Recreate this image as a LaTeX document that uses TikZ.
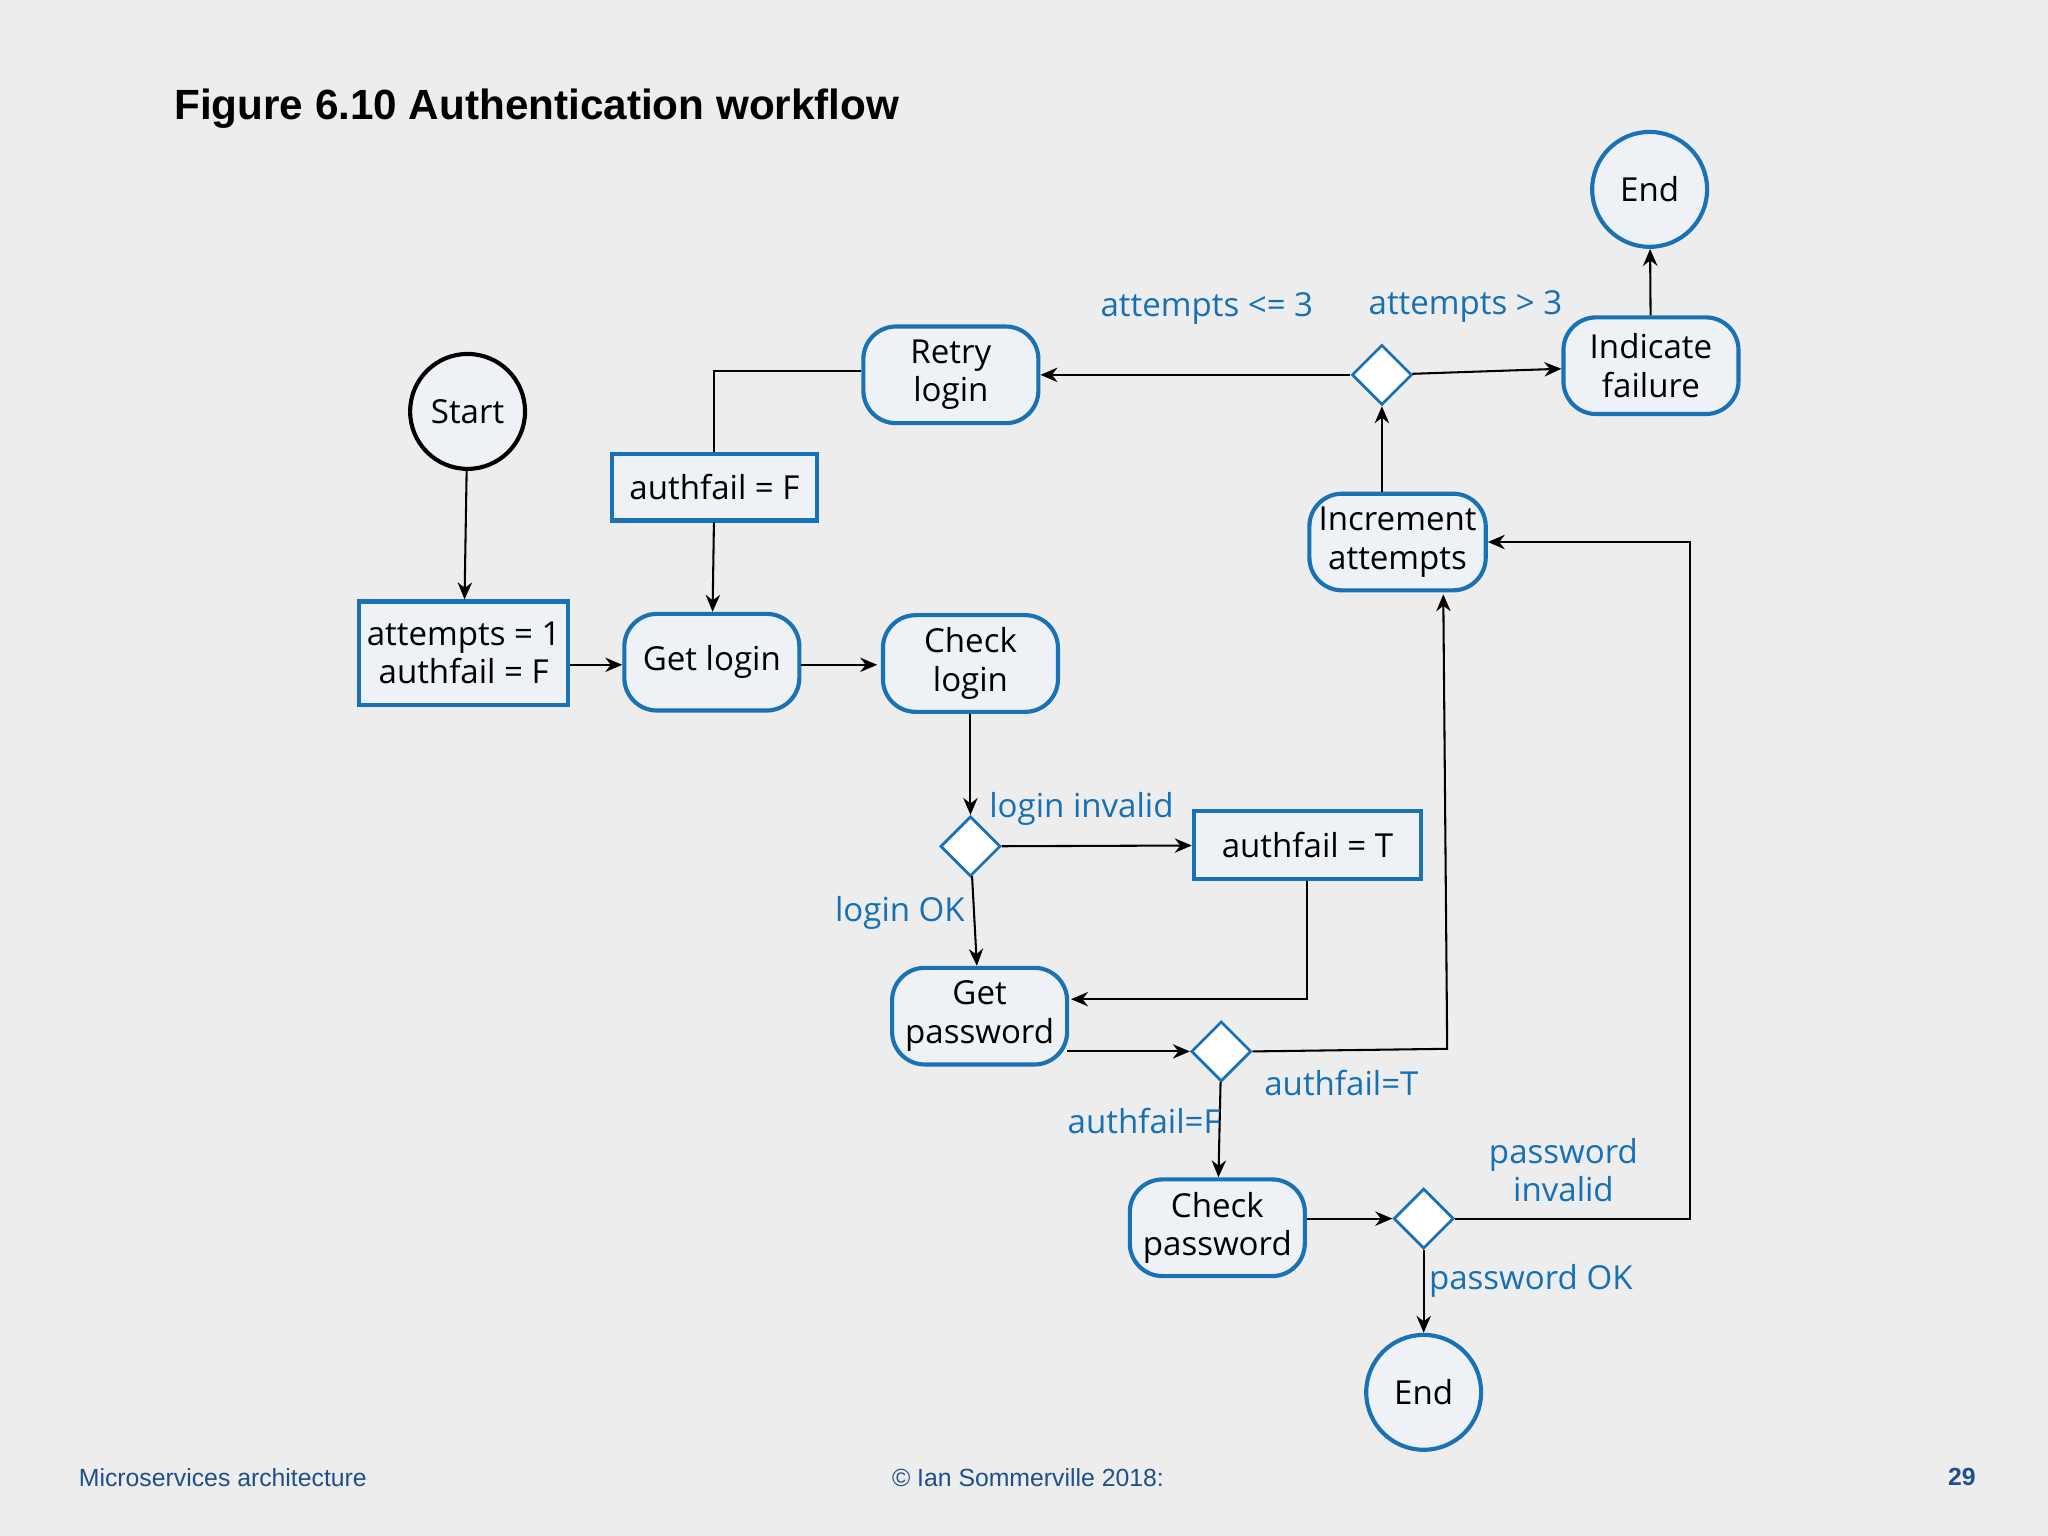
\documentclass[tikz,border=0pt]{standalone}
\usepackage{fontspec}
\setmainfont{Open Sans}
\newfontfamily\titlefont{Liberation Sans}
\usetikzlibrary{shapes.geometric,arrows.meta,positioning}
\definecolor{bgray}{HTML}{EDEDED}
\definecolor{wfblue}{HTML}{1A72B6}
\definecolor{wffill}{HTML}{EEF1F5}
\definecolor{lblue}{HTML}{1570B5}
\definecolor{footblue}{HTML}{1F4F8A}

\begin{document}
\begin{tikzpicture}[x=1cm,y=-1cm,font=\fontsize{7.2}{8.4}\selectfont,
  act/.style={rectangle,rounded corners=2.5mm,draw=wfblue,fill=wffill,line width=0.9pt,minimum width=1.34cm,minimum height=0.74cm,align=center,inner sep=1pt},
  asg/.style={rectangle,draw=wfblue,fill=wffill,line width=0.9pt,minimum height=0.52cm,align=center,inner sep=1pt},
  term/.style={circle,draw=wfblue,fill=wffill,line width=0.9pt,minimum size=0.88cm,inner sep=0pt},
  dec/.style={diamond,draw=wfblue,fill=white,line width=0.6pt,minimum size=0.46cm,inner sep=0pt},
  cond/.style={text=lblue,align=center},
  flow/.style={-{Stealth[length=1.3mm,width=1.1mm]},line width=0.45pt}]

\fill[bgray] (0,0) rectangle (15.68,11.76);
\useasboundingbox (0,0) rectangle (15.68,11.76);

\node[anchor=west,font=\titlefont\bfseries\fontsize{9.2}{11}\selectfont](title) at (1.21,0.83){Figure 6.10 Authentication workflow};

% start and entry
\node[term,draw=black,fill=wffill](start) at (3.58,3.15){Start};
\node[asg,minimum width=1.6cm,minimum height=0.79cm](init) at (3.55,5.00){attempts = 1\\authfail = F};
\node[act](getlogin) at (5.45,5.07){Get login};
\node[act](checklogin) at (7.43,5.08){Check\\login};
\node[dec](loginok) at (7.43,6.48){};
\node[asg,minimum width=1.74cm](failT) at (10.01,6.47){authfail = T};
\node[act](getpw) at (7.50,7.78){Get\\password};
\node[dec](pwtest) at (9.35,8.05){};
\node[act](checkpw) at (9.32,9.40){Check\\password};
\node[dec](pwok) at (10.90,9.33){};
\node[term](endok) at (10.90,10.66){End};

% retry loop
\node[act,minimum width=1.35cm](incr) at (10.70,4.15){Increment\\attempts};
\node[dec](limit) at (10.58,2.87){};
\node[act](retry) at (7.28,2.87){Retry\\login};
\node[asg,minimum width=1.57cm,minimum height=0.51cm](failF) at (5.47,3.73){authfail = F};
\node[act](fail) at (12.64,2.80){Indicate\\failure};
\node[term](endfail) at (12.63,1.45){End};

\coordinate (pwin) at (8.20,7.65);
\coordinate (pwout) at (8.17,8.05);

\draw[flow] (start) -- (init);
\draw[flow] (init.east |- 0,5.09) -- (getlogin.west |- 0,5.09);
\draw[flow] (getlogin.east |- 0,5.09) -- ++(0.58,0);
\draw[flow] (checklogin) -- (loginok);
\draw[flow] (loginok) -- (failT);
\draw[flow] (loginok) -- (getpw);
\draw[flow] (failT) |- (pwin);
\draw[flow] (pwout) -- (pwtest);
\draw[flow] (pwtest) -- (checkpw);
\draw[flow] (pwtest.east) -- (11.08,8.03) -- (11.05,4.55);
\draw[flow] (checkpw.east |- pwok) -- (pwok);
\draw[flow] (pwok) -- (endok);
\draw[flow] (pwok.east) -- (12.94,9.33) |- (incr.east);
\draw[flow] (incr.north -| limit) -- (limit);
\draw[flow] (limit) -- (retry);
\draw[flow] (limit) -- (fail);
\draw[flow] (fail) -- (endfail);
\draw[line width=0.45pt] (retry.west |- 0,2.84) -| (failF.north);
\draw[flow] (failF) -- (getlogin);

% conditions
\node[cond](le3) at (9.24,2.36){attempts <= 3};
\node[cond](gt3) at (11.22,2.35){attempts > 3};
\node[cond](linv) at (8.28,6.19){login invalid};
\node[cond](lok) at (6.89,6.99){login OK};
\node[cond](aT) at (10.27,8.29){authfail=T};
\node[cond](aF) at (8.76,8.58){authfail=F};
\node[cond,font=\fontsize{7.2}{8.2}\selectfont](pinv) at (11.97,8.96){password\\invalid};
\node[cond](pok) at (11.72,9.81){password OK};

% footer
\node[anchor=west,text=footblue,font=\titlefont\fontsize{5.4}{6.5}\selectfont](ftl) at (0.48,11.31){Microservices architecture};
\node[text=footblue,font=\titlefont\fontsize{5.4}{6.5}\selectfont](ftc) at (7.87,11.31){© Ian Sommerville 2018:};
\node[text=footblue,font=\titlefont\bfseries\fontsize{5.4}{6.5}\selectfont](ftr) at (15.02,11.31){29};
\end{tikzpicture}
\end{document}
